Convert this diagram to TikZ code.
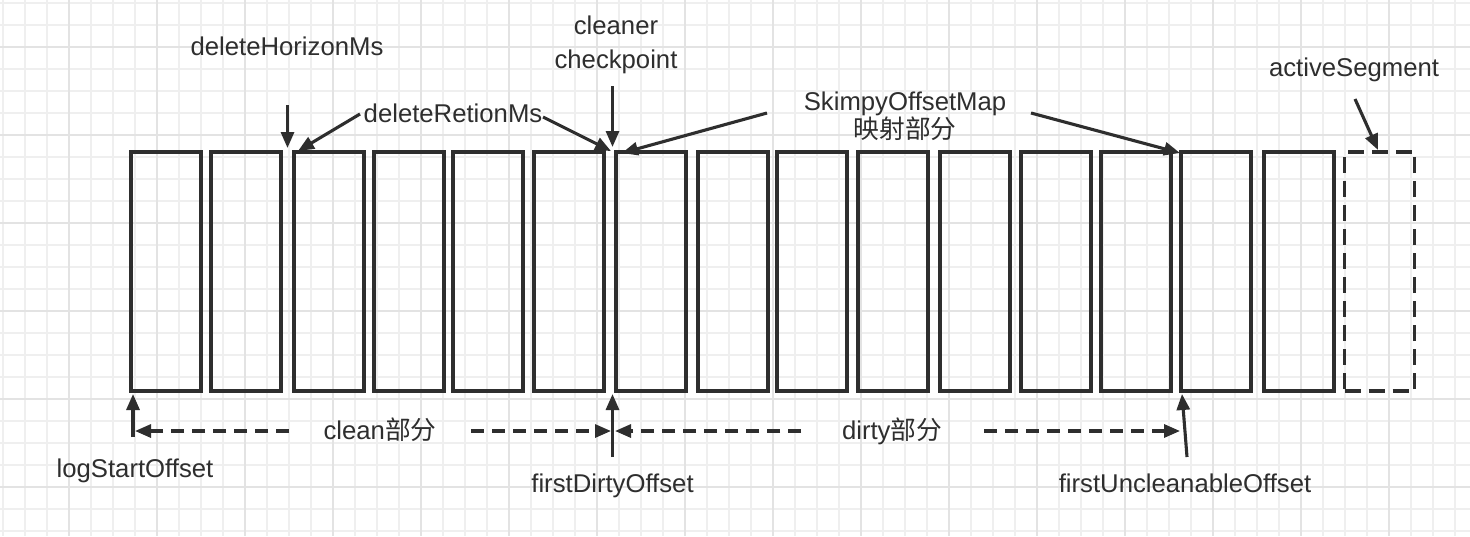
\documentclass[tikz,border=0pt]{standalone}
\usepackage{fontspec}
\setmainfont{Liberation Sans}
\newfontfamily\cjk{Noto Sans CJK SC}
\usetikzlibrary{arrows.meta,calc}
\definecolor{ink}{HTML}{2E2E2E}
\definecolor{gridminor}{HTML}{EFEFEF}
\definecolor{gridmajor}{HTML}{E3E3E3}
\begin{document}
\begin{tikzpicture}[x=0.5pt,y=-0.5pt,
  seg/.style={draw=ink, line width=1.65pt, minimum width=35pt, minimum height=119.5pt, inner sep=0pt, outer sep=0pt},
  activeseg/.style={seg, dash pattern=on 8pt off 4pt},
  lbl/.style={text=ink, font=\fontsize{12.85}{15}\selectfont, inner sep=0pt, anchor=base},
  mlbl/.style={text=ink, inner sep=0pt, anchor=center, align=center},
  arr/.style={draw=ink, line width=1.55pt, -{Triangle[length=8pt,width=6.5pt]}},
  darr/.style={arr, dash pattern=on 6.5pt off 4pt}]
% background and grid
\fill[white] (0,0) rectangle (1470,536);
\useasboundingbox (0,0) rectangle (1470,536);
\foreach \x in {3,25,...,1470} \draw[gridminor, line width=0.6pt] (\x,0) -- (\x,536);
\foreach \y in {3,25,...,536} \draw[gridminor, line width=0.6pt] (0,\y) -- (1470,\y);
\foreach \x in {69,157,...,1470} \draw[gridmajor, line width=0.8pt] (\x,0) -- (\x,536);
\foreach \y in {47,135,...,536} \draw[gridmajor, line width=0.8pt] (0,\y) -- (1470,\y);
% segments
\foreach \c [count=\i] in {166,246,329,409,488,569,651,733,812,893,975,1056,1136,1216,1299}
  \node[seg] (b\i) at (\c,271.5) {};
\node[activeseg] (b16) at (1379.5,271.5) {};
% labels
\node[lbl] (dh) at (287,55) {deleteHorizonMs};
\node[lbl] (dr) at (453,122) {deleteRetionMs};
\node[mlbl, font=\fontsize{12.85}{17}\selectfont] (cc) at (616,45) {cleaner\\checkpoint};
\node[mlbl, font=\fontsize{12.85}{14}\selectfont] (sk) at (905,116) {SkimpyOffsetMap\\{\cjk 映射部分}};
\node[lbl] (as) at (1354,76) {activeSegment};
\node[lbl] (ls) at (135,477) {logStartOffset};
\node[lbl] (fd) at (612.5,492) {firstDirtyOffset};
\node[lbl] (fu) at (1185,492) {firstUncleanableOffset};
\node[lbl] (cl) at (380,439) {clean{\cjk 部分}};
\node[lbl] (dt) at (892,439) {dirty{\cjk 部分}};
% connector ends
\coordinate (dhA) at (287.5,105);  \coordinate (dhB) at (287.5,148);
\coordinate (drA) at (360,114);    \coordinate (drB) at (298,151);
\coordinate (drC) at (543,117);    \coordinate (drD) at (611,151);
\coordinate (ccA) at (612.5,86);   \coordinate (ccB) at (612.5,147);
\coordinate (skA) at (767,113);    \coordinate (skB) at (622,153);
\coordinate (skC) at (1031,113);   \coordinate (skD) at (1180,153);
\coordinate (asA) at (1355,99);    \coordinate (asB) at (1378,150);
\coordinate (lsA) at (133,437);    \coordinate (lsB) at (133,394);
\coordinate (fdA) at (612.5,457);  \coordinate (fdB) at (612.5,394);
\coordinate (fuA) at (1187,457);   \coordinate (fuB) at (1182,394);
\coordinate (clA) at (289,431);    \coordinate (clB) at (135,431);
\coordinate (clC) at (471,431);    \coordinate (clD) at (611,431);
\coordinate (dtA) at (801,431);    \coordinate (dtB) at (615,431);
\coordinate (dtC) at (984,431);    \coordinate (dtD) at (1180,431);
% arrows
\draw[arr] (dhA) -- (dhB);
\draw[arr] (drA) -- (drB);
\draw[arr] (drC) -- (drD);
\draw[arr] (ccA) -- (ccB);
\draw[arr] (skA) -- (skB);
\draw[arr] (skC) -- (skD);
\draw[arr] (asA) -- (asB);
\draw[arr] (lsA) -- (lsB);
\draw[arr] (fdA) -- (fdB);
\draw[arr] (fuA) -- (fuB);
\draw[darr] (clA) -- (clB);
\draw[darr] (clC) -- (clD);
\draw[darr] (dtA) -- (dtB);
\draw[darr] (dtC) -- (dtD);
\end{tikzpicture}
\end{document}
